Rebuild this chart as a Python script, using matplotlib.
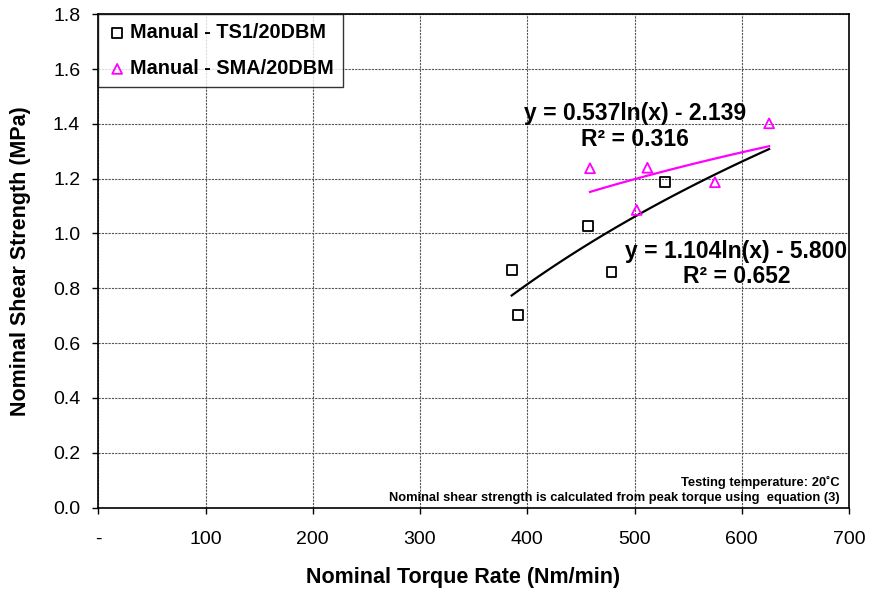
import numpy as np
import matplotlib.pyplot as plt

plt.rcParams['font.family'] = ['Liberation Sans', 'DejaVu Sans']

# TS1/20DBM (squares)
ts1_x = [385.5, 391, 457, 478.5, 528.5]
ts1_y = [0.867, 0.703, 1.028, 0.858, 1.187]
# SMA/20DBM (triangles)
sma_x = [458.5, 502, 512, 575, 625.5]
sma_y = [1.238, 1.086, 1.240, 1.187, 1.402]

# log trendline coefficients (a*ln(x) + b)
ts1_fit = [1.104, -5.800]
sma_fit = [0.537, -2.139]
ts1_r2 = 0.652
sma_r2 = 0.316

fig, ax = plt.subplots(figsize=(8.69, 5.90), dpi=100)
fig.subplots_adjust(left=0.1131, right=0.977, top=0.9758, bottom=0.1398)

ax.grid(True, color='#555555', linestyle=(0, (2, 1)), linewidth=0.8)
ax.set_axisbelow(True)

ax.scatter(ts1_x, ts1_y, marker='s', s=50, facecolors='none', edgecolors='black',
           linewidths=1.3, label='Manual - TS1/20DBM', zorder=3)
ax.scatter(sma_x, sma_y, marker='^', s=50, facecolors='none', edgecolors='#ff00ff',
           linewidths=1.3, label='Manual - SMA/20DBM', zorder=3)

xx = np.linspace(min(ts1_x), max(sma_x), 100)
ax.plot(xx, ts1_fit[0] * np.log(xx) + ts1_fit[1], color='black', linewidth=1.6, zorder=2)
xx2 = np.linspace(min(sma_x), max(sma_x), 100)
ax.plot(xx2, sma_fit[0] * np.log(xx2) + sma_fit[1], color='#ff00ff', linewidth=1.6, zorder=2)

ax.text(500.5, 1.39, f'y = {sma_fit[0]:.3f}ln(x) - {abs(sma_fit[1]):.3f}\nR² = {sma_r2:.3f}',
        ha='center', va='center', fontsize=16.5, fontweight='bold', linespacing=1.15)
ax.text(595, 0.889, f'y = {ts1_fit[0]:.3f}ln(x) - {abs(ts1_fit[1]):.3f}\nR² = {ts1_r2:.3f}',
        ha='center', va='center', fontsize=16.5, fontweight='bold', linespacing=1.15)

ax.text(0.988, 0.0355, 'Testing temperature: 20˚C\nNominal shear strength is calculated from peak torque using  equation (3)',
        transform=ax.transAxes, ha='right', va='center', fontsize=9.3, fontweight='bold',
        multialignment='right', linespacing=1.3)

ax.set_xlim(0, 700)
ax.set_ylim(0, 1.8)
xticks = [0, 100, 200, 300, 400, 500, 600, 700]
ax.set_xticks(xticks)
ax.set_xticklabels(['-'] + [str(t) for t in xticks[1:]])
yticks = np.arange(0, 1.81, 0.2)
ax.set_yticks(yticks)
ax.set_yticklabels([f'{t:.1f}' for t in yticks])
ax.tick_params(direction='out', length=4, width=1, labelsize=14, colors='black')
ax.tick_params(axis='x', pad=13)
ax.tick_params(axis='y', pad=9)

ax.set_xlabel('Nominal Torque Rate (Nm/min)', fontsize=15.5, fontweight='bold')
ax.xaxis.set_label_coords(0.486, -0.12)
ax.set_ylabel('Nominal Shear Strength (MPa)', fontsize=15.5, fontweight='bold', labelpad=16)

for sp in ax.spines.values():
    sp.set_color('black')
    sp.set_linewidth(1.2)

leg = ax.legend(loc='upper left', frameon=True, fancybox=False,
                edgecolor='black', borderaxespad=0.0, handletextpad=0.15,
                handlelength=1.0, borderpad=0.45, labelspacing=0.85,
                prop={'weight': 'bold', 'size': 14.3})
leg.get_frame().set_linewidth(1.0)

plt.savefig('out.png', dpi=100)
